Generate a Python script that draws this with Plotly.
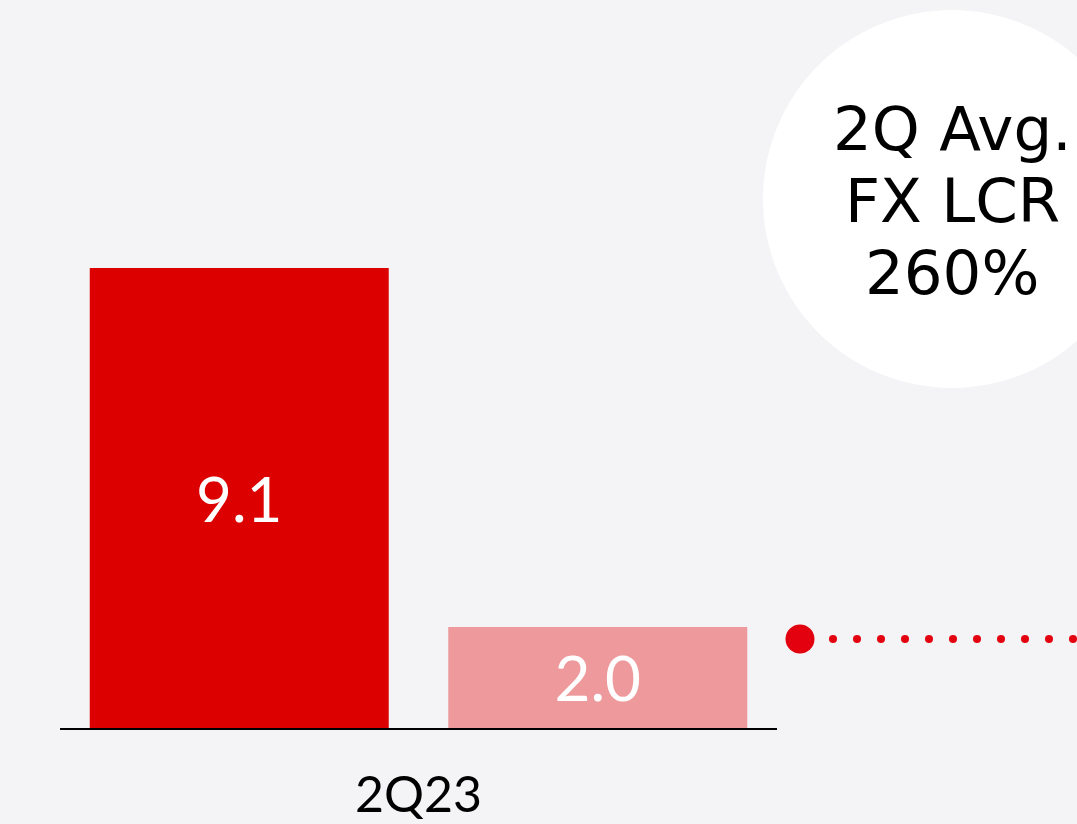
import numpy as np
import plotly.graph_objects as go

# Data
quarters = ["2Q23"]
series_names = ["Total", "FX"]
values_total = [9.1]
values_fx = [2.0]
bar_colors = ["#dc0000", "#ee999b"]
bubble_lines = ["2Q Avg.", "FX LCR", "260%"]

W, H = 1077, 824
BG = "#f4f4f6"
ACCENT = "#e3000f"
FONT = "Lato"
BUBBLE_FONT = "DejaVu Sans"

fig = go.Figure()

for name, vals, col in zip(series_names, [values_total, values_fx], bar_colors):
    fig.add_trace(go.Bar(
        x=quarters, y=vals, name=name,
        marker=dict(color=col, line=dict(width=0)),
        text=[f"{v:.1f}" for v in vals],
        textposition="inside", insidetextanchor="middle",
        textfont=dict(family=FONT, size=62, color="white"),
        hoverinfo="skip",
    ))

# Dotted pointer towards the bubble (drawn on a full-canvas pixel axis)
dot_x = np.arange(833, W + 10, 24)
fig.add_trace(go.Scatter(
    x=dot_x, y=[639] * len(dot_x), mode="markers",
    marker=dict(size=8, color=ACCENT, line=dict(width=0)),
    xaxis="x2", yaxis="y2", hoverinfo="skip", showlegend=False,
))
fig.add_trace(go.Scatter(
    x=[800], y=[639], mode="markers",
    marker=dict(size=29, color=ACCENT, line=dict(width=0)),
    xaxis="x2", yaxis="y2", hoverinfo="skip", showlegend=False,
))

# White bubble behind the callout text
fig.add_shape(type="circle", xref="x2", yref="y2",
              x0=763, x1=1141, y0=10, y1=388,
              fillcolor="white", line=dict(width=0), layer="below")

for i, line in enumerate(bubble_lines):
    fig.add_annotation(xref="x2", yref="y2", x=952, y=128 + i * 72,
                       text=line, showarrow=False,
                       xanchor="center", yanchor="middle",
                       font=dict(family=BUBBLE_FONT, size=61, color="black"))

fig.update_layout(
    width=W, height=H,
    margin=dict(l=0, r=0, t=0, b=0, pad=0),
    paper_bgcolor=BG, plot_bgcolor="rgba(0,0,0,0)",
    barmode="group", bargap=0.0, bargroupgap=0.166,
    showlegend=False,
    xaxis=dict(domain=[60 / W, 777 / W], type="category", automargin=False,
               showline=True, linecolor="black", linewidth=2,
               showgrid=False, zeroline=False, ticks="",
               ticklabelstandoff=22,
               tickfont=dict(family=FONT, size=50, color="black"),
               fixedrange=True),
    yaxis=dict(domain=[96 / H, 1], range=[0, 14.4], automargin=False,
               visible=False, showgrid=False, zeroline=False, fixedrange=True),
    xaxis2=dict(domain=[0, 1], range=[0, W], anchor="y2", visible=False,
                automargin=False, fixedrange=True),
    yaxis2=dict(domain=[0, 1], range=[H, 0], anchor="x2", visible=False,
                automargin=False, fixedrange=True),
)

fig.write_html("out.html")
